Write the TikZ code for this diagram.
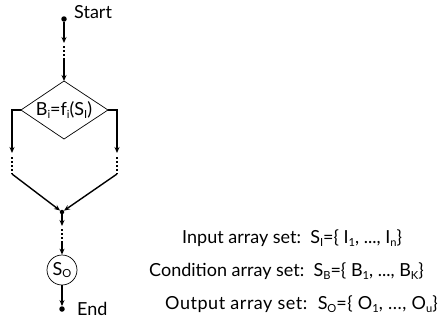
\documentclass[tikz,border=0pt]{standalone}
\usepackage{fontspec}
\setmainfont{Lato}
\usetikzlibrary{arrows.meta}
\newcommand{\sbs}[1]{\raisebox{-0.3ex}{\scalebox{0.62}{#1}}}
\begin{document}
\begin{tikzpicture}[x=1pt,y=-1pt,font=\fontsize{18}{21}\selectfont,
  flow/.style={line width=1.4pt,-{Stealth[length=6pt,width=5pt]}},
  dots/.style={line width=1.6pt,dash pattern=on 1.6pt off 2.4pt},
  thin/.style={line width=0.7pt},
  dotnode/.style={circle,fill,inner sep=0pt,minimum size=5.5pt},
  lbl/.style={inner sep=0pt,anchor=west}]
\useasboundingbox (0,0) rectangle (448,322);
% start
\node[dotnode] (start) at (64,19) {};
\node[lbl] (startl) at (74,12) {Start};
\coordinate (s1) at (64,43);
\coordinate (s2) at (64,60);
\draw[flow] (start) -- (s1);
\draw[dots] (64,46) -- (s2);
% diamond
\coordinate (dT) at (64,81);
\coordinate (dL) at (21,110);
\coordinate (dR) at (108,110);
\coordinate (dB) at (64,139);
\draw[thin] (dT) -- (dR) -- (dB) -- (dL) -- cycle;
\node[inner sep=0pt] (dtext) at (64,110) {B\sbs{i}=f\sbs{i}(S\sbs{I})};
\draw[flow] (s2) -- (dT);
% left branch
\coordinate (l1) at (12,153);
\coordinate (l2) at (12,174);
\draw[flow] (dL) -- (12,110) -- (l1);
\draw[dots] (12,157) -- (l2);
% right branch
\coordinate (r1) at (117,153);
\coordinate (r2) at (117,174);
\draw[flow] (dR) -- (117,110) -- (r1);
\draw[dots] (117,157) -- (r2);
% merge
\node[circle,fill,inner sep=0pt,minimum size=4.5pt] (m) at (62,212) {};
\draw[flow] (l2) -- (m);
\draw[flow] (r2) -- (m);
\coordinate (m1) at (62,226);
\coordinate (m2) at (62,243);
\draw[flow] (m) -- (m1);
\draw[dots] (62,229) -- (m2);
% output circle
\node[circle,draw,thin,minimum size=30pt,inner sep=0pt] (so) at (62,270) {S\sbs{O}};
\draw[flow] (m2) -- (so);
% end
\node[dotnode] (end) at (62,309) {};
\node[lbl] (endl) at (77,309) {End};
\draw[flow] (so) -- (end);
% legend
\node[lbl] (in) at (182,238) {Input array set:\ \ S\sbs{I}=\{ I\sbs{1}, ..., I\sbs{n}\}};
\node[lbl] (cond) at (149,271) {Condition array set:\ \ S\sbs{B}=\{ B\sbs{1}, ..., B\sbs{K}\}};
\node[lbl] (out) at (165,304) {\addfontfeature{LetterSpace=3}Output array set:\ \ S\sbs{O}=\{ O\sbs{1}, ..., O\sbs{u}\}};
\end{tikzpicture}
\end{document}
